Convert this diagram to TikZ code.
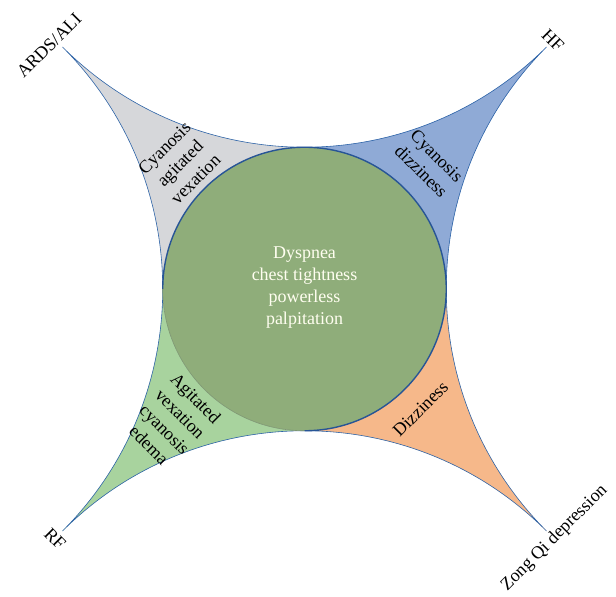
\documentclass[tikz,border=0pt]{standalone}
\usepackage{fontspec}
\setmainfont{Liberation Serif}
\definecolor{qgray}{RGB}{214,215,218}
\definecolor{qblue}{RGB}{143,170,214}
\definecolor{qorange}{RGB}{246,184,138}
\definecolor{qgreen}{RGB}{168,211,158}
\definecolor{cgreen}{RGB}{143,173,122}
\definecolor{lineblue}{RGB}{46,100,168}
\definecolor{circblue}{RGB}{40,85,150}
\definecolor{faint}{RGB}{125,150,115}
\begin{document}
\begin{tikzpicture}[x=1pt,y=1pt,
  lbl/.style={font=\fontsize{18}{22}\selectfont, align=center, inner sep=0pt},
  tiplbl/.style={font=\fontsize{18}{22}\selectfont, inner sep=0pt},
  inner/.style={font=\fontsize{18}{22}\selectfont, align=center, inner sep=0pt, text=white!94!yellow}]
\def\T{242}\def\D{484}\def\R{342.24}\def\r{141.76}
\useasboundingbox (-304.5,-308) rectangle (311.5,289);
% quadrant regions
\fill[qgray] (-\T,\T) arc[start angle=225,end angle=270,radius=\R]
  arc[start angle=90,end angle=180,radius=\r]
  arc[start angle=0,end angle=45,radius=\R] -- cycle;
\fill[qblue] (\T,\T) arc[start angle=315,end angle=270,radius=\R]
  arc[start angle=90,end angle=0,radius=\r]
  arc[start angle=180,end angle=135,radius=\R] -- cycle;
\fill[qorange] (\T,-\T) arc[start angle=225,end angle=180,radius=\R]
  arc[start angle=0,end angle=-90,radius=\r]
  arc[start angle=90,end angle=45,radius=\R] -- cycle;
\fill[qgreen] (-\T,-\T) arc[start angle=135,end angle=90,radius=\R]
  arc[start angle=-90,end angle=-180,radius=\r]
  arc[start angle=0,end angle=-45,radius=\R] -- cycle;
% star outline
\draw[lineblue, line width=0.6pt] (-\T,\T) arc[start angle=225,end angle=315,radius=\R]
  arc[start angle=135,end angle=225,radius=\R]
  arc[start angle=45,end angle=135,radius=\R]
  arc[start angle=-45,end angle=45,radius=\R] -- cycle;
% central circle
\fill[cgreen] (0,0) circle[radius=\r];
\draw[circblue, line width=1.4pt] (0,-\r) arc[start angle=-90,end angle=180,radius=\r];
\draw[faint, line width=0.6pt] (-\r,0) arc[start angle=180,end angle=270,radius=\r];
% texts
\node[inner] (core) at (0,1) {Dyspnea\\chest tightness\\powerless\\palpitation};
\node[lbl, rotate=45] (tl) at (-124.5,125.5) {Cyanosis\\agitated\\vexation};
\node[lbl, rotate=-45] (tr) at (124.5,125.5) {Cyanosis\\dizziness};
\node[lbl, rotate=45] (br) at (116,-120) {Dizziness};
\node[lbl, rotate=-45] (bl) at (-132,-132.5) {Agitated\\vexation\\cyanosis\\edema};
\node[tiplbl, rotate=45] (ards) at (-255.5,243.5) {ARDS/ALI};
\node[tiplbl, rotate=-45] (hf) at (248.5,249) {HF};
\node[tiplbl, rotate=-45] (rf) at (-249.5,-250) {RF};
\node[tiplbl, rotate=45] (zq) at (250,-249) {Zong Qi depression};
\end{tikzpicture}
\end{document}
